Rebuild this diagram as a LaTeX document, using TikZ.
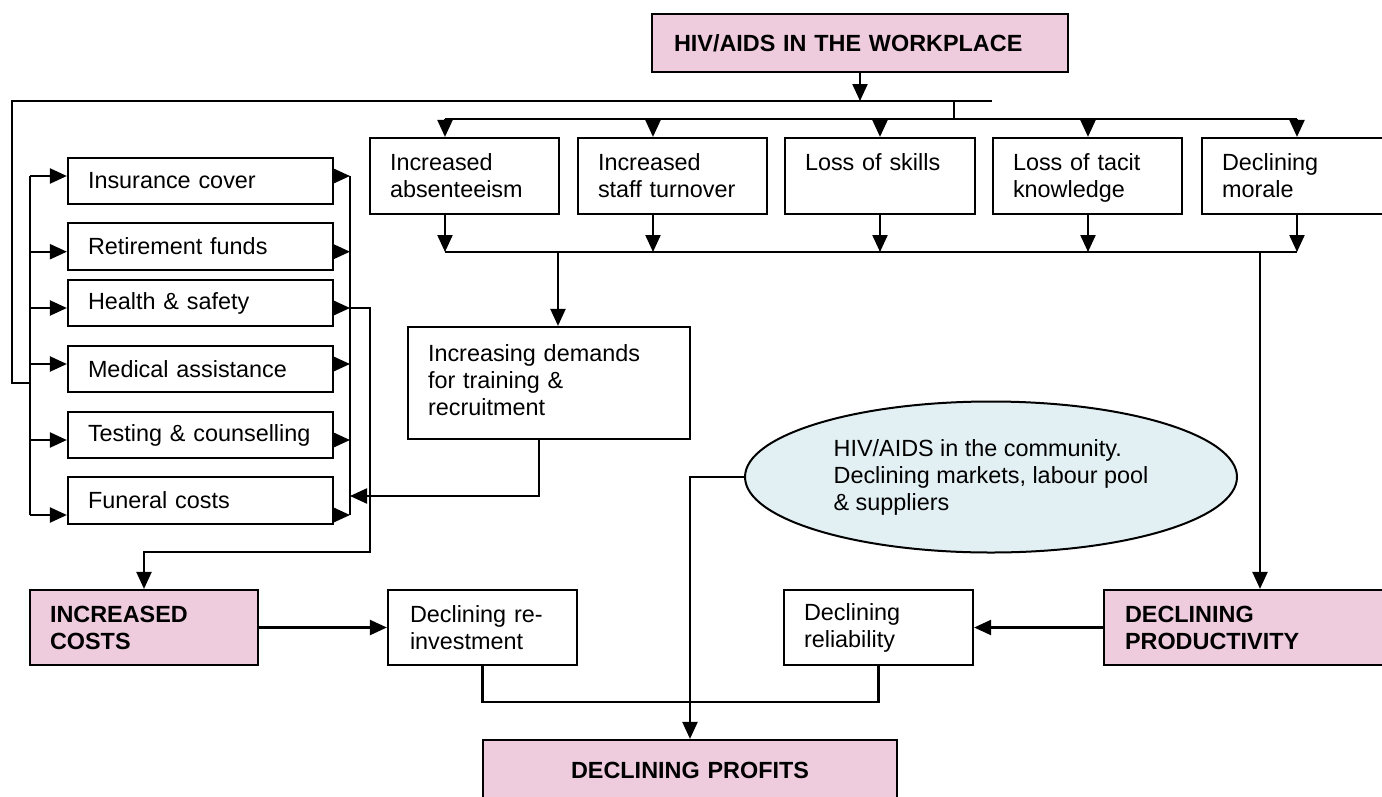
\documentclass[tikz,border=0pt]{standalone}
\usepackage{fontspec}
\setmainfont{Liberation Sans}
\usetikzlibrary{arrows.meta,shapes.geometric}
\definecolor{pinkfill}{RGB}{238,204,222}
\definecolor{ellfill}{RGB}{226,240,243}
\newcommand\fsz{\fontsize{23.4}{27}\selectfont}
\tikzset{
  ln/.style={line width=2.2pt, line join=miter},
  arr/.style={ln, -{Triangle[length=17pt,width=15pt]}},
  rect/.style={draw, line width=2.2pt, fill=white, inner xsep=20pt, inner ysep=0pt, align=left, font=\fsz},
  pinkrect/.style={rect, fill=pinkfill, font=\fsz\bfseries},
}
\begin{document}
\begin{tikzpicture}[x=1pt,y=-1pt]
\clip (0,0) rectangle (1382,796);
\fill[white] (0,0) rectangle (1382,796);

% top box
\node[pinkrect, inner xsep=22pt, text width=372pt, minimum height=58pt] (top) at (860,43) {HIV/AIDS IN THE WORKPLACE};

% top row boxes
\node[rect, text width=149pt, minimum height=76pt] (b1) at (464.5,176) {Increased\\absenteeism};
\node[rect, text width=149pt, minimum height=76pt] (b2) at (672.5,176) {Increased\\staff turnover};
\node[rect, text width=150pt, minimum height=76pt] (b3) at (880,176) {Loss of skills\\\mbox{}};
\node[rect, text width=149pt, minimum height=76pt] (b4) at (1087.5,176) {Loss of tacit\\\smash{knowledge}};
\node[rect, text width=149pt, minimum height=76pt] (b5) at (1296.5,176) {Declining\\morale};

% left column
\node[rect, text width=225pt, minimum height=46pt] (ins) at (200.5,181) {Insurance cover};
\node[rect, text width=225pt, minimum height=47pt] (ret) at (200.5,246.5) {Retirement funds};
\node[rect, text width=225pt, minimum height=46pt] (hs) at (200.5,303) {Health \& safety};
\node[rect, text width=225pt, minimum height=46pt] (med) at (200.5,369) {Medical assistance};
\node[rect, text width=225pt, minimum height=46pt] (tst) at (200.5,435) {Testing \& counselling};
\node[rect, text width=225pt, minimum height=47pt] (fun) at (200.5,500.5) {Funeral costs};

% demands
\node[rect, text width=242pt, minimum height=112pt] (dem) at (549,383) {Increasing demands\strut\\for training \&\strut\\recruitment\strut};

% ellipse
\node[draw, line width=2pt, ellipse, fill=ellfill, minimum width=492pt, minimum height=151pt, inner sep=0pt, align=left, font=\fsz] (ell) at (991,477) {HIV/AIDS in the community.\\Declining markets, labour pool\\\& suppliers};

% lower boxes
\node[pinkrect, text width=188pt, minimum height=75pt] (cost) at (144,627.5) {INCREASED\\COSTS};
\node[rect, inner xsep=22pt, text width=145pt, minimum height=75pt] (rein) at (482.5,627.5) {Declining re-\\investment};
\node[rect, text width=149pt, minimum height=75pt] (rel) at (878.5,627.5) {Declining\\reliability};
\node[pinkrect, inner xsep=21pt, text width=254pt, minimum height=75pt] (prod) at (1252,627.5) {DECLINING\\PRODUCTIVITY};
\node[pinkrect, align=center, text width=374pt, minimum height=60pt] (prof) at (690,770) {DECLINING PROFITS};

% coordinates
\coordinate (t1) at (445,119);
\coordinate (t2) at (653,119);
\coordinate (t3) at (880,119);
\coordinate (t4) at (1088,119);
\coordinate (t5) at (1297,119);

% top distribution
\draw[arr] (top.south) -- (860,101);
\draw[ln] (992,101) -- (12,101) -- (12,383) -- (30,383);
\draw[ln] (954,101) -- (954,119);
\draw[ln] (t1) -- (t5);
\foreach \t/\b in {t1/b1,t2/b2,t3/b3,t4/b4,t5/b5}{
  \draw[arr] (\t) -- (\t |- \b.north);
  \draw[arr] (\t |- \b.south) -- (\t |- 0,252);
}
\draw[ln] (445,252) -- (1297,252);

% left bus
\draw[ln] (30,176) -- (30,515);
\draw[ln] (350,176) -- (350,515);
\foreach \n/\y in {ins/176,ret/251.7,hs/308,med/364,tst/440,fun/515}{
  \draw[arr] (30,\y) -- (\n.west |- 0,\y);
  \draw[arr] (\n.east |- 0,\y) -- (350,\y);
}

% demands
\draw[arr] (558,252) -- (558,0 |- dem.north);
\draw[arr] (539,0 |- dem.south) -- (539,496) -- (350,496);

% to increased costs
\draw[arr] (350,308) -- (370,308) -- (370,552) -- (144,552) -- (cost.north);

% to productivity
\draw[arr] (1260,252) -- (1260,0 |- prod.north);

% bottom row
\draw[arr] (cost.east) -- (rein.west);
\draw[arr] (prod.west) -- (rel.east);
\draw[ln] (rein.south) -- (482.5,702) -- (878.5,702) -- (rel.south);
\draw[arr] (ell.west) -- (690,477) -- (prof.north);
\end{tikzpicture}
\end{document}
